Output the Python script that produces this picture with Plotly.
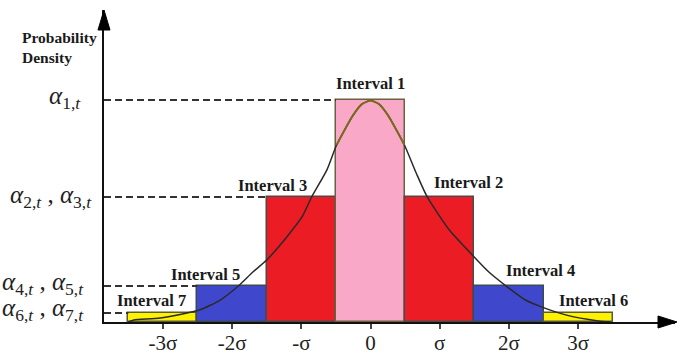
import plotly.graph_objects as go

# ---------------- data ----------------
categories = ["Interval 7", "Interval 5", "Interval 3", "Interval 1",
              "Interval 2", "Interval 4", "Interval 6"]
bar_centers = [-3, -2, -1, 0, 1, 2, 3]
bar_heights = [0.040, 0.162, 0.563, 1.0, 0.563, 0.162, 0.040]
label_x = [-3.17, -2.38, -1.41, 0.0, 1.42, 2.45, 3.22]

tick_vals = [-3, -2, -1, 0, 1, 2, 3]
tick_text = ["-3σ", "-2σ", "-σ", "0", "σ", "2σ", "3σ"]

curve_x = [-3.50, -3.42, -3.04, -2.47, -2.17, -1.91, -1.70, -1.50, -1.21, -0.99,
           -0.85, -0.63, -0.49, -0.25, -0.12, 0.00, 0.12, 0.25, 0.49, 0.66,
           0.82, 1.14, 1.47, 1.71, 1.96, 2.24, 2.47, 2.82, 3.29, 3.47]
curve_y = [0.000, 0.009, 0.018, 0.054, 0.099, 0.162, 0.225, 0.279, 0.383, 0.473,
           0.563, 0.685, 0.797, 0.932, 0.982, 0.997, 0.982, 0.932, 0.797, 0.671,
           0.563, 0.414, 0.302, 0.225, 0.162, 0.099, 0.068, 0.032, 0.005, 0.000]

alpha_labels = [
    "<i>α</i><sub>1,<i>t</i></sub>",
    "<i>α</i><sub>2,<i>t</i></sub> , <i>α</i><sub>3,<i>t</i></sub>",
    "<i>α</i><sub>4,<i>t</i></sub> , <i>α</i><sub>5,<i>t</i></sub>",
    "<i>α</i><sub>6,<i>t</i></sub> , <i>α</i><sub>7,<i>t</i></sub>",
]

# ---------------- styling ----------------
bar_colors = ["#FFF200", "#3F48CC", "#EC1C24", "#F9A8C8",
              "#EC1C24", "#3F48CC", "#FFF200"]
bar_edges = ["#5a5a3a", "#3a4a50", "#4a4a4a", "#6b6040",
             "#4a4a4a", "#3a4a50", "#5a5a3a"]
label_yshift = [1, 0, 0, 5, 3, 4, 1]
SERIF = "Liberation Serif, Times New Roman, serif"

X_MIN, X_MAX = -3.851, 4.400
Y_MIN, Y_MAX = 0.0, 1.405
PLOT_L, PLOT_W = 104, 571
PLOT_T, PLOT_H = 10, 312

fig = go.Figure()

fig.add_trace(go.Bar(
    x=bar_centers, y=bar_heights, width=1.0,
    marker=dict(color=bar_colors, line=dict(color=bar_edges, width=1.5)),
    hoverinfo="skip", showlegend=False,
))

fig.add_trace(go.Scatter(
    x=curve_x, y=curve_y, mode="lines",
    line=dict(color="#2a2a2a", width=1.5, shape="spline", smoothing=0.6),
    hoverinfo="skip", showlegend=False,
))

mid = [(x, y) for x, y in zip(curve_x, curve_y) if -0.5 <= x <= 0.5]
fig.add_trace(go.Scatter(
    x=[p[0] for p in mid], y=[p[1] for p in mid], mode="lines",
    line=dict(color="#7d6b1c", width=2, shape="spline", smoothing=0.6),
    hoverinfo="skip", showlegend=False,
))

shapes = []
# dashed reference lines from the y axis to the left edge of the left-side bars
left_bars = [(c, h) for c, h in zip(bar_centers, bar_heights) if c <= 0]
left_bars.sort(key=lambda t: -t[1])
for c, h in left_bars:
    shapes.append(dict(type="line", xref="x", yref="y",
                       x0=X_MIN, x1=c - 0.5, y0=h, y1=h,
                       line=dict(color="#333333", width=2, dash="7px,4px")))

# axis arrowheads (paper coordinates, not clipped)
px = 1.0 / PLOT_W
py = 1.0 / PLOT_H
shapes.append(dict(type="path", xref="paper", yref="paper",
                   path="M %f,%f L %f,0 L %f,%f Z" % (1 - 17 * px, 6 * py, 1 + 2 * px,
                                                       1 - 17 * px, -6 * py),
                   fillcolor="black", line=dict(color="black", width=1)))
shapes.append(dict(type="path", xref="paper", yref="paper",
                   path="M %f,%f L 0,1 L %f,%f Z" % (-6 * px, 1 - 20 * py,
                                                      6 * px, 1 - 20 * py),
                   fillcolor="black", line=dict(color="black", width=1)))

annotations = []
for name, lx, c, ys in zip(categories, label_x, bar_centers, label_yshift):
    h = bar_heights[bar_centers.index(c)]
    annotations.append(dict(
        x=lx, y=h, xref="x", yref="y", text="<b>%s</b>" % name,
        showarrow=False, xanchor="center", yanchor="bottom", yshift=ys,
        font=dict(family=SERIF, size=16.5, color="#1a1a1a")))

alpha_right_px = [83, 94, 86, 86]
alpha_yshift = [2, 0, 3, 4]
for txt, (c, h), rpx, ys in zip(alpha_labels, left_bars, alpha_right_px, alpha_yshift):
    annotations.append(dict(
        x=(rpx - PLOT_L) / PLOT_W, y=h, xref="paper", yref="y",
        text=txt, showarrow=False, xanchor="right", yanchor="middle",
        yshift=ys, font=dict(family=SERIF, size=25, color="#222222")))

annotations.append(dict(
    x=(20 - PLOT_L) / PLOT_W, y=(PLOT_T + PLOT_H - 47.5) / PLOT_H,
    xref="paper", yref="paper",
    text="<b>Probability<br>Density</b>", showarrow=False, align="left",
    xanchor="left", yanchor="middle",
    font=dict(family=SERIF, size=15.5, color="#1a1a1a")))

fig.update_layout(
    width=685, height=357, autosize=False,
    margin=dict(l=PLOT_L, r=685 - PLOT_L - PLOT_W, t=PLOT_T,
                b=357 - PLOT_T - PLOT_H, autoexpand=False),
    paper_bgcolor="white", plot_bgcolor="white",
    shapes=shapes, annotations=annotations, bargap=0,
    xaxis=dict(range=[X_MIN, X_MAX], showgrid=False, zeroline=False,
               showline=True, linecolor="#111111", linewidth=1.5,
               ticks="outside", ticklen=5, tickwidth=1.5, tickcolor="#444444",
               ticklabelstandoff=-4,
               tickvals=tick_vals, ticktext=tick_text,
               tickfont=dict(family=SERIF, size=21, color="#222222"),
               fixedrange=True),
    yaxis=dict(range=[Y_MIN, Y_MAX], showgrid=False, zeroline=False,
               showline=True, linecolor="#111111", linewidth=1.5,
               showticklabels=False, ticks="", fixedrange=True),
)

fig.write_html("out.html", config={"displayModeBar": False},
               post_script="document.body.style.margin='0';"
                           "document.body.style.padding='0';")
